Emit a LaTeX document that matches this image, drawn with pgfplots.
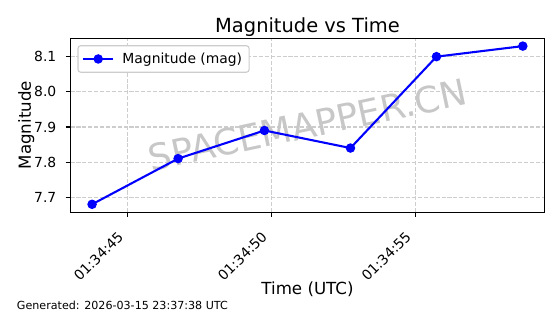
\documentclass[border=0pt]{standalone}
\usepackage{fontspec}
\setmainfont{DejaVu Sans}
\usepackage{pgfplots}
\pgfplotsset{compat=1.18}
\definecolor{gridc}{RGB}{205,205,205}
\definecolor{wmc}{RGB}{199,199,199}
\definecolor{legc}{RGB}{204,204,204}
\definecolor{mblue}{RGB}{0,0,255}
\begin{document}
\begin{tikzpicture}
\path[use as bounding box] (0,0) rectangle (403.2pt,-226.08pt);
\begin{axis}[
  at={(50.76pt,-152.78pt)}, anchor=south west,
  scale only axis, width=341.2pt, height=125.28pt,
  xmin=43.02, xmax=59.49, ymin=7.6575, ymax=8.1525,
  xtick={45,50,55}, xticklabels={01:34:45,01:34:50,01:34:55},
  ytick={7.7,7.8,7.9,8.0,8.1}, yticklabels={7.7,7.8,7.9,8.0,8.1},
  tick pos=left, tick align=outside, major tick length=3.5pt,
  tick style={black, line width=0.8pt},
  axis line style={line width=0.8pt},
  grid=major, grid style={gridc, line width=0.8pt, dash pattern=on 2.96pt off 1.28pt},
  tick label style={font=\fontsize{10}{12}\selectfont},
  /pgf/number format/assume math mode=true,
  xticklabel style={xshift=-2.3pt, yshift=-14.8pt, rotate=45, anchor=base east, inner sep=0pt},
  yticklabel style={anchor=east, inner sep=0pt, xshift=-6.5pt},
  legend style={at={(axis description cs:0.0147,0.96)}, anchor=north west,
    draw=legc, line width=0.8pt, rounded corners=2pt, fill=white,
    font=\fontsize{10}{12}\selectfont, inner xsep=3pt, inner ysep=3pt,
    cells={anchor=west}},
  legend image code/.code={\draw[mark repeat=2,mark phase=2] plot coordinates {(0pt,0pt) (10.8pt,0pt) (21.6pt,0pt)};\path (25.5pt,0pt);},
]
\node[font=\fontsize{26}{31}\selectfont, text=wmc, rotate=12] at (rel axis cs:0.5,0.5) {SPACEMAPPER.CN};
\addplot[mblue, line width=1.5pt, mark=*, mark size=3pt, mark options={fill=mblue, draw=mblue, line width=0.8pt}]
  coordinates {(43.77,7.68) (46.76,7.81) (49.76,7.89) (52.75,7.84) (55.74,8.10) (58.74,8.13)};
\addlegendentry{Magnitude (mag)}
\end{axis}
\node[anchor=base, font=\fontsize{14}{17}\selectfont] at (221.4pt,-23.2pt) {Magnitude vs Time};
\node[rotate=90, anchor=base, font=\fontsize{12}{14}\selectfont] at (22.2pt,-90.14pt) {Magnitude};
\node[anchor=base, font=\fontsize{12}{14}\selectfont] at (221.4pt,-212.2pt) {Time (UTC)};
\node[anchor=base west, inner sep=0pt, font=\fontsize{8}{10}\selectfont] at (12pt,-222.5pt) {Generated: 2026-03-15 23:37:38 UTC};
\end{tikzpicture}
\end{document}
